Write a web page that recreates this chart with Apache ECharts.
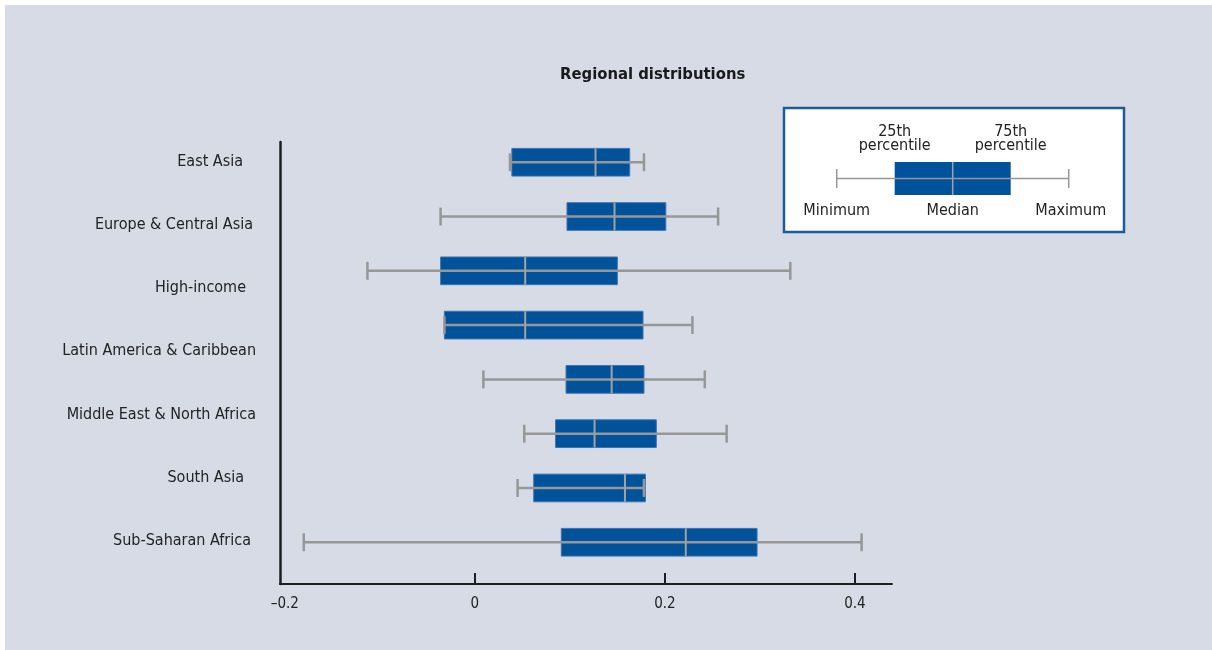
<!DOCTYPE html>
<html>
<head>
<meta charset="utf-8">
<script src="https://cdn.jsdelivr.net/npm/echarts@6/dist/echarts.min.js"></script>
<style>
html,body{margin:0;padding:0;background:#ffffff;}
#bg{position:absolute;left:5px;top:5px;width:1207px;height:645px;background:#d6dbe6;}
#main{position:absolute;left:0;top:0;width:1212px;height:650px;}
</style>
</head>
<body>
<div id="bg"></div>
<div id="main"></div>
<script>
// ---- data ----
const titleText = 'Regional distributions';
const regionLabels = ['East Asia', 'Europe & Central Asia', 'High-income', 'Latin America & Caribbean',
  'Middle East & North Africa', 'South Asia', 'Sub-Saharan Africa'];
// right-edge indent (px) of each label as set in the original
const labelIndent = [13, 3, 10, 0, 0, 12, 5];
// eight box rows as drawn in the original figure (top to bottom)
const boxRows = ['1', '2', '3', '4', '5', '6', '7', '8'];
const boxMin    = [0.037, -0.036, -0.113, -0.032, 0.009, 0.052, 0.045, -0.180];
const boxQ1     = [0.039,  0.097, -0.036, -0.032, 0.096, 0.085, 0.062,  0.091];
const boxMedian = [0.127,  0.147,  0.053,  0.053, 0.144, 0.126, 0.158,  0.222];
const boxQ3     = [0.163,  0.201,  0.150,  0.177, 0.178, 0.191, 0.1795, 0.297];
const boxMax    = [0.178,  0.256,  0.332,  0.229, 0.242, 0.265, 0.178,  0.407];
const xTicks = [-0.2, 0, 0.2, 0.4];
const xTickMarks = [0, 0.2, 0.4];
// legend key: minimum, 25th, median, 75th, maximum
const keyValues = [0, 1, 2, 3, 4];
const keyLabelsBelow = ['Minimum', 'Median', 'Maximum'];
const keyLabelsAbove = ['25th\npercentile', '75th\npercentile'];

// ---- style ----
const FONT = "'DejaVu Sans Condensed', 'Liberation Sans', sans-serif";
const BOX_BLUE = '#00529b';
const WHISKER = '#979797';
const AXIS = '#1e1e1e';
const TEXT = '#222222';

const boxData = boxRows.map((r, i) => [i, boxMin[i], boxQ1[i], boxMedian[i], boxQ3[i], boxMax[i]]);

function renderBox(params, api) {
  const y = api.value(0);
  const lo = api.coord([api.value(1), y]);
  const q1 = api.coord([api.value(2), y]);
  const md = api.coord([api.value(3), y]);
  const q3 = api.coord([api.value(4), y]);
  const hi = api.coord([api.value(5), y]);
  const band = api.size([0, 1])[1];
  const bh = band * 0.51;
  const ch = band * 0.33;
  const cy = lo[1];
  return {
    type: 'group',
    children: [
      { type: 'rect', shape: { x: q1[0], y: cy - bh / 2, width: q3[0] - q1[0], height: bh },
        style: { fill: BOX_BLUE, stroke: '#3b74b3', lineWidth: 1 } },
      { type: 'line', shape: { x1: lo[0], y1: cy, x2: hi[0], y2: cy },
        style: { stroke: WHISKER, lineWidth: 2.5 } },
      { type: 'line', shape: { x1: lo[0], y1: cy - ch / 2, x2: lo[0], y2: cy + ch / 2 },
        style: { stroke: WHISKER, lineWidth: 2.5 } },
      { type: 'line', shape: { x1: hi[0], y1: cy - ch / 2, x2: hi[0], y2: cy + ch / 2 },
        style: { stroke: WHISKER, lineWidth: 2.5 } },
      { type: 'line', shape: { x1: md[0], y1: cy - bh / 2, x2: md[0], y2: cy + bh / 2 },
        style: { stroke: '#a2a2a2', lineWidth: 2 } }
    ]
  };
}

function renderKey(params, api) {
  const y = api.value(0);
  const p = [1, 2, 3, 4, 5].map(k => api.coord([api.value(k), y]));
  const band = api.size([0, 1])[1];
  const cy = p[0][1];
  const bh = band;
  const ch = band * 0.58;
  const txt = (t, x, yy, va) => ({ type: 'text', style: {
    text: t, x: x, y: yy, align: 'center', verticalAlign: va,
    fontFamily: FONT, fontSize: 16, lineHeight: 14, fill: TEXT } });
  return {
    type: 'group',
    children: [
      { type: 'rect', shape: { x: p[1][0], y: cy - bh / 2, width: p[3][0] - p[1][0], height: bh },
        style: { fill: BOX_BLUE } },
      { type: 'line', shape: { x1: p[0][0], y1: cy, x2: p[4][0], y2: cy },
        style: { stroke: WHISKER, lineWidth: 1.5 } },
      { type: 'line', shape: { x1: p[0][0], y1: cy - ch / 2, x2: p[0][0], y2: cy + ch / 2 },
        style: { stroke: WHISKER, lineWidth: 1.5 } },
      { type: 'line', shape: { x1: p[4][0], y1: cy - ch / 2, x2: p[4][0], y2: cy + ch / 2 },
        style: { stroke: WHISKER, lineWidth: 1.5 } },
      { type: 'line', shape: { x1: p[2][0], y1: cy - bh / 2, x2: p[2][0], y2: cy + bh / 2 },
        style: { stroke: '#a2a2a2', lineWidth: 1.5 } },
      txt(keyLabelsAbove[0], p[1][0], cy - bh / 2 - 9, 'bottom'),
      txt(keyLabelsAbove[1], p[3][0], cy - bh / 2 - 9, 'bottom'),
      txt(keyLabelsBelow[0], p[0][0], cy + bh / 2 + 9, 'top'),
      txt(keyLabelsBelow[1], p[2][0], cy + bh / 2 + 9, 'top'),
      txt(keyLabelsBelow[2], p[4][0] + 2, cy + bh / 2 + 9, 'top')
    ]
  };
}

const chart = echarts.init(document.getElementById('main'), null, { renderer: 'canvas' });
chart.setOption({
  animation: false,
  backgroundColor: 'transparent',
  textStyle: { fontFamily: FONT },
  title: {
    text: titleText, left: 555, top: 61,
    textStyle: { fontFamily: FONT, fontSize: 16.5, fontWeight: 'bold', color: '#1a1a1a' }
  },
  graphic: [{
    type: 'rect', z: 0,
    shape: { x: 784, y: 108, width: 340, height: 124 },
    style: { fill: '#ffffff', stroke: '#1d5c9c', lineWidth: 2.5 }
  }],
  grid: [
    { left: 280, width: 612, top: 142, height: 442 },        // frame axes
    { left: 280, width: 612, top: 135.1, height: 434.3 },    // boxes
    { left: 280, width: 612, top: 130.1, height: 442.2 },    // region labels
    { left: 836.7, width: 232, top: 162, height: 33 }        // legend key
  ],
  xAxis: [
    { gridIndex: 0, type: 'value', min: -0.205, max: 0.439,
      axisLine: { show: true, onZero: false, lineStyle: { color: AXIS, width: 2 } },
      axisTick: { show: true, inside: true, length: 11, customValues: xTickMarks,
        lineStyle: { color: AXIS, width: 2 } },
      axisLabel: { customValues: xTicks, margin: 13, fontSize: 15, color: TEXT, fontFamily: FONT,
        formatter: v => (v < 0 ? '\u2013' + Math.abs(v) : String(v)) },
      splitLine: { show: false } },
    { gridIndex: 1, type: 'value', min: -0.205, max: 0.439, show: false },
    { gridIndex: 2, type: 'value', min: 0, max: 1, show: false },
    { gridIndex: 3, type: 'value', min: keyValues[0], max: keyValues[4], show: false }
  ],
  yAxis: [
    { gridIndex: 0, type: 'value', min: 0, max: 1,
      axisLine: { show: true, onZero: false, lineStyle: { color: AXIS, width: 2.5 } },
      axisTick: { show: false }, axisLabel: { show: false }, splitLine: { show: false } },
    { gridIndex: 1, type: 'category', data: boxRows, inverse: true, show: false },
    { gridIndex: 2, type: 'category', inverse: true,
      data: regionLabels.map((r, i) => ({ value: r, textStyle: { padding: [0, labelIndent[i], 0, 0] } })),
      axisLine: { show: false }, axisTick: { show: false }, splitLine: { show: false },
      axisLabel: { margin: 24, fontSize: 16, color: TEXT, fontFamily: FONT } },
    { gridIndex: 3, type: 'category', data: ['key'], show: false }
  ],
  series: [
    { type: 'custom', name: 'boxes', xAxisIndex: 1, yAxisIndex: 1, z: 5,
      renderItem: renderBox, data: boxData, encode: { x: [1, 2, 3, 4, 5], y: 0 } },
    { type: 'custom', name: 'key', xAxisIndex: 3, yAxisIndex: 3, z: 5, clip: false,
      renderItem: renderKey, data: [[0].concat(keyValues)], encode: { x: [1, 2, 3, 4, 5], y: 0 } }
  ]
});
</script>
</body>
</html>
